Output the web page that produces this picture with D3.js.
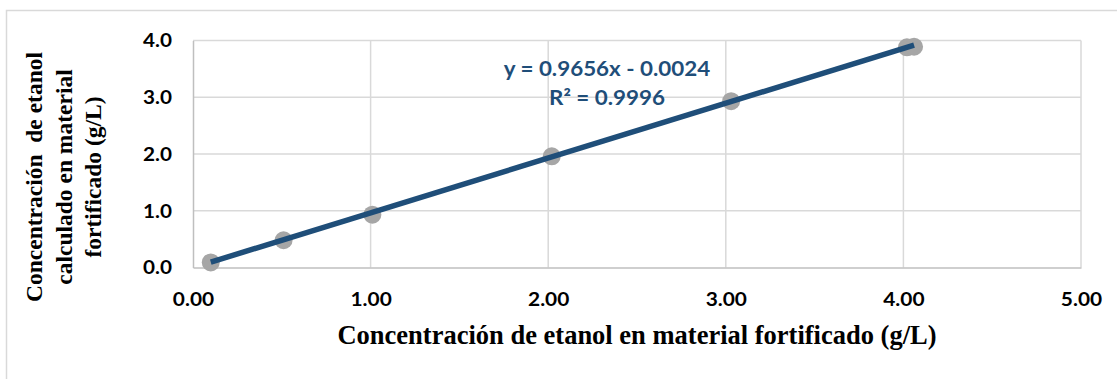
<!DOCTYPE html>
<html>
<head>
<meta charset="utf-8">
<script src="https://cdn.jsdelivr.net/npm/d3@7"></script>
<style>
  html, body { margin: 0; padding: 0; background: #fff; }
  svg { display: block; }
</style>
</head>
<body>
<svg id="chart" width="1117" height="379"></svg>
<script>
// Ethanol measured vs. fortified concentration (g/L)
const fortified = [0.10, 0.51, 1.01, 2.02, 3.03, 4.02, 4.06];
const calculated = [0.09, 0.48, 0.93, 1.96, 2.93, 3.88, 3.89];
const xTicks = [0, 1, 2, 3, 4, 5];
const yTicks = [0, 1, 2, 3, 4];
const slope = 0.9656;
const intercept = -0.0024;
const rSquared = 0.9996;
const xTitle = "Concentración de etanol en material fortificado (g/L)";
const yTitleLines = ["Concentración  de etanol", "calculado en material", "fortificado (g/L)"];

const svg = d3.select("#chart");
const W = 1117, H = 379;
const plot = { left: 193, right: 1081, top: 40.5, bottom: 267.5 };
const sansFont = "Lato, 'Open Sans', sans-serif";
const serifFont = "'Liberation Serif', 'Times New Roman', serif";

// outer chart frame
svg.append("rect")
  .attr("x", 6.5).attr("y", 10.5)
  .attr("width", W + 10).attr("height", H)
  .attr("fill", "#fff").attr("stroke", "#d9d9d9").attr("stroke-width", 1.5);

const x = d3.scaleLinear().domain([0, 5]).range([plot.left, plot.right]);
const y = d3.scaleLinear().domain([0, 4]).range([plot.bottom, plot.top]);

// gridlines
const grid = svg.append("g").attr("stroke", "#d9d9d9").attr("stroke-width", 1.5);
grid.selectAll("line.v").data(xTicks.slice(1)).join("line")
  .attr("x1", d => x(d)).attr("x2", d => x(d))
  .attr("y1", plot.top).attr("y2", plot.bottom);
grid.selectAll("line.h").data(yTicks.slice(1)).join("line")
  .attr("x1", plot.left).attr("x2", plot.right)
  .attr("y1", d => y(d)).attr("y2", d => y(d));

// axes
const xAxis = d3.axisBottom(x).tickValues(xTicks).tickFormat(d3.format(".2f")).tickSize(0);
const yAxis = d3.axisLeft(y).tickValues(yTicks).tickFormat(d3.format(".1f")).tickSize(0);

const gx = svg.append("g").attr("transform", `translate(0,${plot.bottom})`).call(xAxis);
const gy = svg.append("g").attr("transform", `translate(${plot.left},0)`).call(yAxis);
[gx, gy].forEach(g => {
  g.select(".domain").attr("stroke", "#bfbfbf").attr("stroke-width", 1.5);
  g.selectAll("text")
    .attr("font-family", sansFont)
    .attr("font-weight", "bold")
    .attr("fill", "#000");
});
const xs = 1.1, ys = 1.15;
gx.selectAll("text")
  .attr("font-size", 19)
  .attr("x", 0).attr("y", 39).attr("dy", 0)
  .attr("transform", `scale(${xs},1)`);
gy.selectAll("text")
  .attr("font-size", 18)
  .attr("x", -21 / ys).attr("dy", "0.36em")
  .attr("transform", `scale(${ys},1)`);

// data points
svg.append("g").selectAll("circle")
  .data(fortified.map((d, i) => [d, calculated[i]]))
  .join("circle")
  .attr("cx", d => x(d[0])).attr("cy", d => y(d[1]))
  .attr("r", 9)
  .attr("fill", "#a6a6a6");

// linear trendline across the data range
const xMin = d3.min(fortified), xMax = d3.max(fortified);
svg.append("line")
  .attr("x1", x(xMin)).attr("y1", y(slope * xMin + intercept))
  .attr("x2", x(xMax)).attr("y2", y(slope * xMax + intercept))
  .attr("stroke", "#1f4e79").attr("stroke-width", 5.5).attr("stroke-linecap", "butt");

// trendline equation
const eqs = 1.12;
const eq = svg.append("g").attr("transform", `translate(607,0) scale(${eqs},1)`)
  .append("text")
  .attr("font-family", sansFont)
  .attr("font-weight", "bold")
  .attr("font-size", 20)
  .attr("fill", "#1f4e79")
  .attr("text-anchor", "middle");
eq.append("tspan").attr("x", 0).attr("y", 76)
  .text(`y = ${slope}x - ${Math.abs(intercept).toFixed(4)}`);
eq.append("tspan").attr("x", 0).attr("y", 105)
  .text(`R² = ${rSquared}`);

// axis titles
svg.append("text")
  .attr("x", 637).attr("y", 344)
  .attr("text-anchor", "middle")
  .attr("font-family", serifFont)
  .attr("font-weight", "bold")
  .attr("font-size", 26.5)
  .attr("fill", "#000")
  .text(xTitle);

const yt = svg.append("text")
  .attr("transform", "translate(42,177) rotate(-90)")
  .attr("text-anchor", "middle")
  .attr("font-family", serifFont)
  .attr("font-weight", "bold")
  .attr("font-size", 23.5)
  .attr("fill", "#000")
  .attr("xml:space", "preserve")
  .style("white-space", "pre");
yTitleLines.forEach((t, i) => {
  yt.append("tspan").attr("x", 0).attr("y", i * 29.5).text(t);
});
</script>
</body>
</html>
